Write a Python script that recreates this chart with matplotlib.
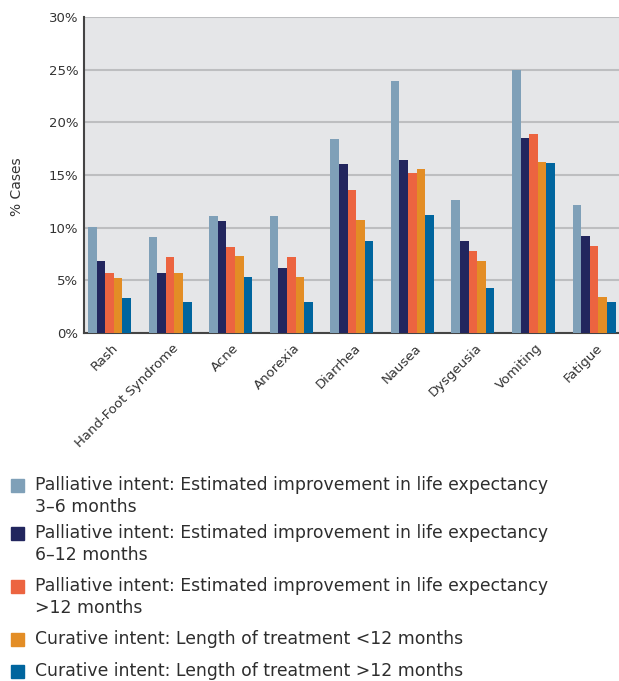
import numpy as np
import matplotlib.pyplot as plt
from matplotlib.patches import Rectangle
from matplotlib.transforms import ScaledTranslation

plt.rcParams['font.family'] = ['DejaVu Sans']

categories = ['Rash', 'Hand-Foot Syndrome', 'Acne', 'Anorexia', 'Diarrhea',
              'Nausea', 'Dysgeusia', 'Vomiting', 'Fatigue']

pal_3_6 = [10.1, 9.1, 11.1, 11.1, 18.4, 23.9, 12.6, 25.0, 12.2]
pal_6_12 = [6.8, 5.7, 10.6, 6.2, 16.0, 16.4, 8.7, 18.5, 9.2]
pal_gt12 = [5.7, 7.2, 8.2, 7.2, 13.6, 15.2, 7.8, 18.9, 8.3]
cur_lt12 = [5.2, 5.7, 7.3, 5.3, 10.7, 15.6, 6.8, 16.2, 3.4]
cur_gt12 = [3.3, 2.9, 5.3, 2.9, 8.7, 11.2, 4.3, 16.1, 2.9]

series_labels = [
    'Palliative intent: Estimated improvement in life expectancy\n3\u20136 months',
    'Palliative intent: Estimated improvement in life expectancy\n6\u201312 months',
    'Palliative intent: Estimated improvement in life expectancy\n>12 months',
    'Curative intent: Length of treatment <12 months',
    'Curative intent: Length of treatment >12 months',
]
colors = ['#7fa0b8', '#22265e', '#ec6440', '#e38d25', '#00659e']
series = [pal_3_6, pal_6_12, pal_gt12, cur_lt12, cur_gt12]

fig = plt.figure(figsize=(6.19, 6.81), dpi=100)
ax = fig.add_axes([0.1357, 0.511, 0.8643, 0.464])
ax.set_facecolor('#e5e6e8')

x = np.arange(len(categories))
w = 0.142
for i, (vals, c) in enumerate(zip(series, colors)):
    ax.bar(x + (i - 2) * w, vals, width=w, color=c, zorder=3)

ax.set_xlim(-0.42, 8.41)
ax.set_ylim(0, 30)
ax.set_yticks(np.arange(0, 31, 5))
ax.set_yticklabels([f'{v}%' for v in range(0, 31, 5)], fontsize=9.5, color='#333333')
ax.yaxis.grid(True, color='#bdbec0', linewidth=1.5, zorder=0)
ax.tick_params(axis='y', length=0, pad=4)
ax.tick_params(axis='x', length=0, pad=6)
ax.set_xticks(x)
ax.set_xticklabels(categories, rotation=45, ha='right', rotation_mode='anchor',
                   fontsize=9.5, color='#333333')
shift = ScaledTranslation(2 / 100, 0, fig.dpi_scale_trans)
for t in ax.get_xticklabels():
    t.set_transform(t.get_transform() + shift)
for s in ['top', 'right']:
    ax.spines[s].set_visible(False)
for s in ['left', 'bottom']:
    ax.spines[s].set_color('#444444')
    ax.spines[s].set_linewidth(1.5)
ax.set_ylabel('% Cases', fontsize=10, color='#333333')
ax.yaxis.set_label_coords(-0.112, 0.462)

# legend drawn by hand so swatches line up with the first text line
legend_y = [485.5, 533, 586, 639.5, 671.5]
for lab, c, yy in zip(series_labels, colors, legend_y):
    yf = 1 - yy / 681
    fig.patches.append(Rectangle((11 / 619, yf - 6.5 / 681), 13 / 619, 13 / 681,
                                 transform=fig.transFigure, color=c))
    for k, line in enumerate(lab.split('\n')):
        fig.text(35 / 619, yf - k * 22 / 681, line, fontsize=12.4, color='#2e2e2e',
                 va='center', ha='left')

fig.savefig('out.png', dpi=100)
